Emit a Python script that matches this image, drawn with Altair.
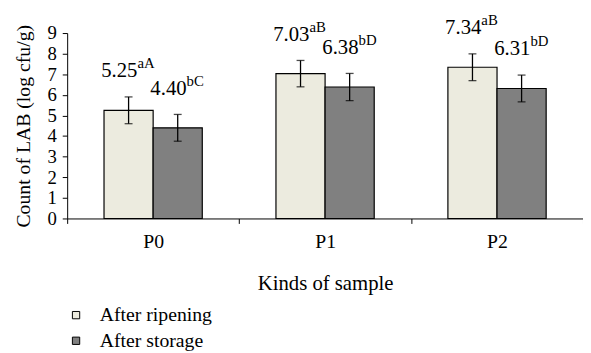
import altair as alt
import pandas as pd

samples = ["P0", "P1", "P2"]
groups = ["After ripening", "After storage"]
ripening = [5.25, 7.03, 7.34]
storage = [4.40, 6.38, 6.31]
rip_err = [0.65, 0.64, 0.65]
sto_err = [0.65, 0.66, 0.65]
rip_sup = ["aA", "aB", "aB"]
sto_sup = ["bC", "bD", "bD"]

rows = []
for i, s in enumerate(samples):
    rows.append({"sample": s, "group": groups[0], "value": ripening[i], "err": rip_err[i], "sup": rip_sup[i]})
    rows.append({"sample": s, "group": groups[1], "value": storage[i], "err": sto_err[i], "sup": sto_sup[i]})
df = pd.DataFrame(rows)
df["lo"] = df["value"] - df["err"]
df["hi"] = df["value"] + df["err"]
df["label"] = df["value"].map(lambda v: f"{v:.2f}")

FONT = "Liberation Serif"
YTITLE = "Count of LAB (log cfu/g)"

x = alt.X("sample:N", sort=samples, title="Kinds of sample",
          scale=alt.Scale(paddingInner=0, paddingOuter=0),
          axis=alt.Axis(labelAngle=0, tickBand="extent"))
xo = alt.XOffset("group:N", sort=groups, scale=alt.Scale(paddingOuter=0.75, paddingInner=0))
yscale = alt.Scale(domain=[0, 9], nice=False)


def yenc(f):
    return alt.Y(f, scale=yscale, title=YTITLE,
                 axis=alt.Axis(values=list(range(10)), labelOverlap=False,
                               labelFontSize=19, titleFontSize=20, titlePadding=14))


color = alt.Color("group:N", sort=groups,
                  scale=alt.Scale(domain=groups, range=["#ECEBDF", "#808080"]),
                  legend=alt.Legend(title=None, orient="none", legendX=-1, legendY=276,
                                    symbolType="square", symbolSize=55, symbolStrokeColor="black",
                                    symbolStrokeWidth=1, labelFont=FONT, labelFontSize=20,
                                    labelColor="black", rowPadding=6, labelOffset=14))

base = alt.Chart(df)

bars = base.mark_bar(stroke="black", strokeWidth=1.2).encode(
    x=x, xOffset=xo, y=yenc("value:Q"), color=color)

rules = base.mark_rule(color="black", strokeWidth=1.3).encode(
    x=x, xOffset=xo, y=yenc("lo:Q"), y2="hi:Q")
caps_hi = base.mark_tick(color="black", thickness=1.3, size=8).encode(
    x=x, xOffset=xo, y=yenc("hi:Q"))
caps_lo = base.mark_tick(color="black", thickness=1.3, size=8).encode(
    x=x, xOffset=xo, y=yenc("lo:Q"))

main = base.mark_text(font=FONT, fontSize=21, align="right", baseline="alphabetic",
                      dx=9, dy=-20, color="black").encode(
    x=x, xOffset=xo, y=yenc("hi:Q"), text="label:N")
sup = base.mark_text(font=FONT, fontSize=15, align="left", baseline="alphabetic",
                     dx=9, dy=-29, color="black").encode(
    x=x, xOffset=xo, y=yenc("hi:Q"), text="sup:N")

chart = alt.layer(bars, rules, caps_hi, caps_lo, main, sup).properties(
    width=523, height=188,
    autosize=alt.AutoSizeParams(type="none"),
    padding={"left": 60, "top": 23, "right": 0, "bottom": 134},
).configure_view(stroke=None).configure_axis(
    grid=False, domainColor="black", tickColor="black", labelColor="black",
    titleColor="black", labelFont=FONT, titleFont=FONT, titleFontWeight="normal",
    tickSize=5,
).configure_axisX(
    labelFontSize=20, titleFontSize=21, labelPadding=8, titlePadding=22,
).configure_axisY(
    labelOverlap=False, labelFlush=False, labelPadding=6,
)

chart.save("out.html", embed_options={"renderer": "svg", "actions": False})
